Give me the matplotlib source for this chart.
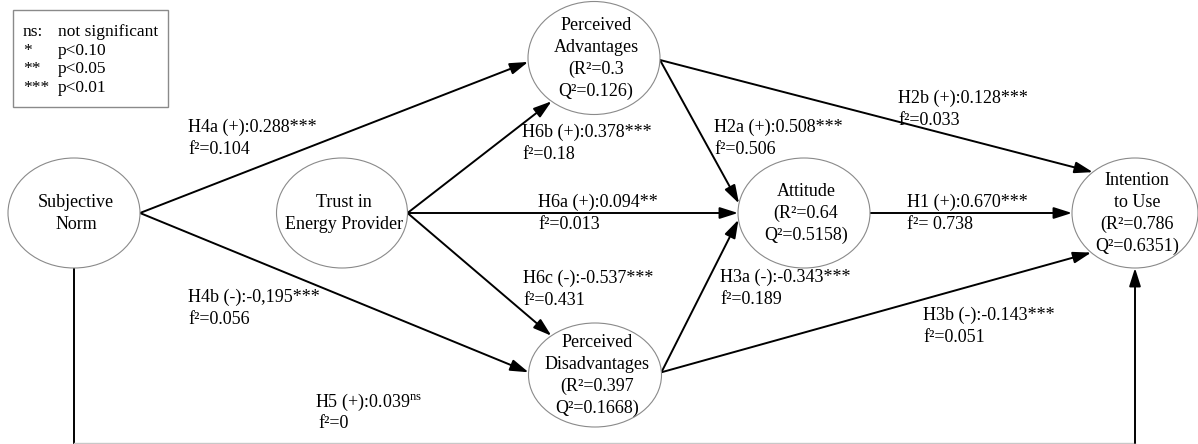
import numpy as np
import matplotlib
matplotlib.use("Agg")
import matplotlib.pyplot as plt
from matplotlib.patches import Ellipse, Rectangle

plt.rcParams['font.family'] = ['Liberation Serif', 'DejaVu Serif']
plt.rcParams['mathtext.fontset'] = 'custom'
plt.rcParams['mathtext.rm'] = 'Liberation Serif'

# ---- data ----
node_keys = ['SN', 'TR', 'PA', 'PD', 'AT', 'IU']
node_names = ['Subjective\nNorm', 'Trust in\nEnergy Provider', 'Perceived\nAdvantages',
              'Perceived\nDisadvantages', 'Attitude', 'Intention\nto Use']
node_r2 = [None, None, '0.3', '0.397', '0.64', '0.786']
node_q2 = [None, None, '0.126', '0.1668', '0.5158', '0.6351']

hyp_names = ['H4a', 'H6b', 'H2a', 'H2b', 'H6a', 'H1', 'H6c', 'H3a', 'H4b', 'H3b', 'H5']
hyp_signs = ['+', '+', '+', '+', '+', '+', '-', '-', '-', '-', '+']
hyp_coefs = ['0.288', '0.378', '0.508', '0.128', '0.094', '0.670', '-0.537', '-0.343', '-0,195', '-0.143', '0.039']
hyp_sig = ['***', '***', '***', '***', '**', '***', '***', '***', '***', '***', 'ns']
hyp_f2 = ['0.104', '0.18', '0.506', '0.033', '0.013', ' 0.738', '0.431', '0.189', '0.056', '0.051', '0']
hyp_src = ['SN', 'TR', 'PA', 'PA', 'TR', 'AT', 'TR', 'PD', 'SN', 'PD', 'SN']
hyp_dst = ['PA', 'PA', 'AT', 'IU', 'AT', 'IU', 'PD', 'AT', 'PD', 'IU', 'IU']

legend_keys = ['ns:', '*', '**', '***']
legend_vals = ['not significant', 'p<0.10', 'p<0.05', 'p<0.01']

# ---- layout (pixel space) ----
node_pos = {'SN': (74, 213, 132, 110), 'TR': (342, 213, 131, 110),
            'PA': (594, 58, 132, 113), 'PD': (595, 375, 133, 104),
            'AT': (804, 213, 132, 110), 'IU': (1135, 213, 126, 110)}
# anchor angles (deg, y downward) on source / target ellipse
edge_angles = {'H4a': (0, 176), 'H6b': (0, 130), 'H2a': (2, 190), 'H2b': (2, 228),
               'H6a': (0, 180), 'H1': (0, 180), 'H6c': (0, 229), 'H3a': (357, 173),
               'H4b': (0, 183), 'H3b': (357, 134), 'H5': (90, 90)}
label_pos = {'H4a': (188, 127), 'H6b': (522, 132), 'H2a': (714, 127), 'H2b': (898, 98),
             'H6a': (538, 202), 'H1': (907, 202), 'H6c': (523, 278), 'H3a': (720, 277),
             'H4b': (188, 297), 'H3b': (923, 315), 'H5': (315, 402)}
h5_floor = 443
fs = 13
line_gap = 22


def anchor(key, deg):
    cx, cy, w, h = node_pos[key]
    t = np.deg2rad(deg)
    return cx + w / 2 * np.cos(t), cy + h / 2 * np.sin(t)


fig = plt.figure(figsize=(11.98, 4.44), dpi=100)
ax = fig.add_axes([0, 0, 1, 1])
ax.set_xlim(0, 1198)
ax.set_ylim(444, 0)
ax.axis('off')

arrow_kw = dict(arrowstyle='-|>,head_length=1.1,head_width=0.35', color='k', lw=1.4,
                shrinkA=0, shrinkB=0, mutation_scale=10)

# nodes
for k, name, r2, q2 in zip(node_keys, node_names, node_r2, node_q2):
    cx, cy, w, h = node_pos[k]
    ax.add_patch(Ellipse((cx, cy), w, h, facecolor='white', edgecolor='#8a8a8a', lw=0.8, zorder=3))
    lines = name.split('\n')
    if r2 is not None:
        lines += ['(R²=' + r2, 'Q²=' + q2 + ')']
    n = len(lines)
    for i, ln in enumerate(lines):
        y = cy + (i - (n - 1) / 2) * line_gap
        ax.text(cx + 2, y, ln, ha='center', va='center', fontsize=fs, zorder=4)

# edges
for h, s, d in zip(hyp_names, hyp_src, hyp_dst):
    a0, a1 = edge_angles[h]
    p0 = anchor(s, a0)
    p1 = anchor(d, a1)
    if h == 'H5':
        # the bottom run sits on the image edge, so it shows up faint
        ax.plot([p0[0], p0[0]], [p0[1], h5_floor], color='k', lw=1.4, zorder=2)
        ax.plot([p0[0], p1[0]], [h5_floor, h5_floor], color='#c8c8c8', lw=1.0, zorder=2)
        ax.annotate('', xy=p1, xytext=(p1[0], h5_floor), arrowprops=arrow_kw, zorder=2)
    else:
        ax.annotate('', xy=p1, xytext=p0, arrowprops=arrow_kw, zorder=2)

# path labels
for h, sg, c, sig, f2 in zip(hyp_names, hyp_signs, hyp_coefs, hyp_sig, hyp_f2):
    x, y = label_pos[h]
    if sig == 'ns':
        top = '%s (%s):%s$^{\\mathrm{ns}}$' % (h, sg, c)
        ax.text(x, y, top, ha='left', va='center', fontsize=fs)
        ax.text(x + 3, y + line_gap - 1, 'f²=' + f2, ha='left', va='center', fontsize=fs)
    else:
        top = '%s (%s):%s%s' % (h, sg, c, sig)
        ax.text(x, y, top, ha='left', va='center', fontsize=fs)
        ax.text(x, y + line_gap, 'f²=' + f2, ha='left', va='center', fontsize=fs)

# legend box
ax.add_patch(Rectangle((13, 10), 155, 97, facecolor='white', edgecolor='#8a8a8a', lw=1))
for i, (k, v) in enumerate(zip(legend_keys, legend_vals)):
    y = 32 + i * 18.7
    ax.text(23, y, k, ha='left', va='center', fontsize=fs - 0.5)
    ax.text(58, y, v, ha='left', va='center', fontsize=fs - 0.5)

fig.savefig('out.png', dpi=100)
